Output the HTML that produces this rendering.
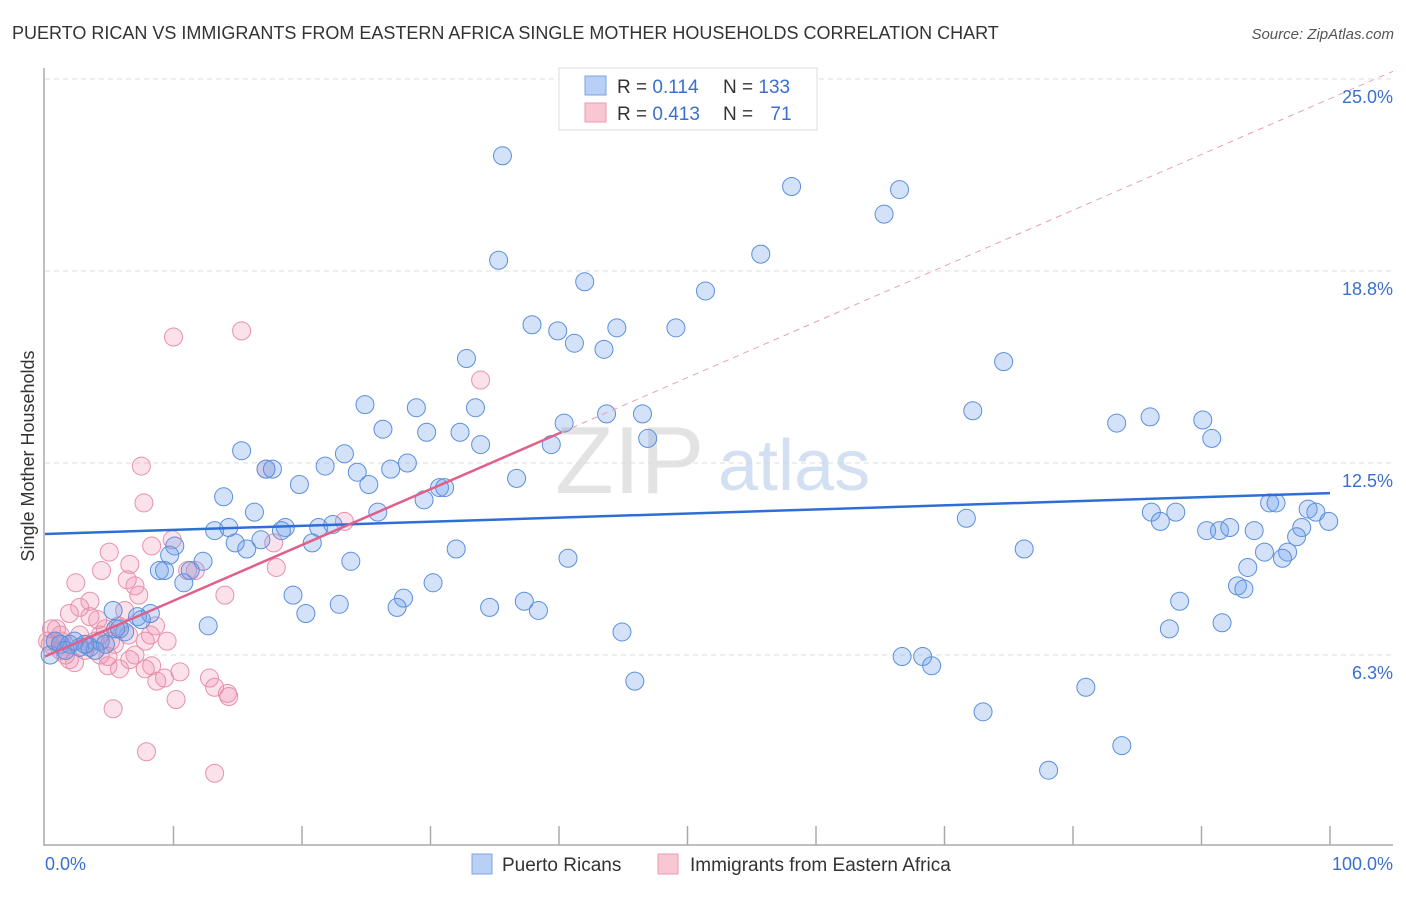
<!DOCTYPE html>
<html><head><meta charset="utf-8"><style>
body{margin:0;background:#fff;font-family:"Liberation Sans",sans-serif;}
svg text{font-family:"Liberation Sans",sans-serif;}
</style></head><body>
<svg id="chart" width="1406" height="892" viewBox="0 0 1406 892" xmlns="http://www.w3.org/2000/svg">
<text x="12" y="39" font-size="18" fill="#333">PUERTO RICAN VS IMMIGRANTS FROM EASTERN AFRICA SINGLE MOTHER HOUSEHOLDS CORRELATION CHART</text>
<text x="1394" y="39" font-size="15" fill="#555" font-style="italic" text-anchor="end">Source: ZipAtlas.com</text>
<g id="grid"></g>
<g>
<text x="555" y="493" font-size="96" fill="#ddd" font-family="Liberation Serif" opacity="0.8">ZIP</text>
<text x="718" y="490" font-size="72" fill="#c9d9ef" opacity="0.8">atlas</text>
</g>
<g id="axes"></g>
<g id="pink-points"></g>
<g id="blue-points"></g>
<g id="trends"></g>
<text transform="translate(34,456) rotate(-90)" font-size="18" fill="#333" text-anchor="middle">Single Mother Households</text>
<g>
<rect x="559" y="68" width="258" height="62" fill="#fff" stroke="#ddd"/>
<rect x="585" y="76" width="21" height="19" fill="#b8d0f5" stroke="#7aa3e0"/>
<rect x="585" y="103" width="21" height="19" fill="#f9c6d4" stroke="#ec9ab2"/>
<text x="617" y="93" font-size="19" fill="#333">R = <tspan fill="#3a6fd0">0.114</tspan></text>
<text x="723" y="93" font-size="19" fill="#333">N = <tspan fill="#3a6fd0">133</tspan></text>
<text x="617" y="120" font-size="19" fill="#333">R = <tspan fill="#3a6fd0">0.413</tspan></text>
<text x="723" y="120" font-size="19" fill="#333">N = <tspan fill="#3a6fd0" dx="12">71</tspan></text>
</g>
<g>
<rect x="472" y="854" width="20" height="20" fill="#b8d0f5" stroke="#7aa3e0"/>
<text x="502" y="871" font-size="19" fill="#333">Puerto Ricans</text>
<rect x="658" y="854" width="20" height="20" fill="#f9c6d4" stroke="#ec9ab2"/>
<text x="690" y="871" font-size="19" fill="#333">Immigrants from Eastern Africa</text>
</g>
</svg>
<script>
const yTicks=[6.25,12.5,18.75,25];
const yTickLabels=["6.3%","12.5%","18.8%","25.0%"];
const xTickLabels=["0.0%","100.0%"];
const blueX=[35.6,58.1,66.5,65.3,35.3,55.7,42.0,51.4,37.9,39.9,44.5,49.1,41.2,43.5,32.8,74.6,24.9,28.9,33.5,43.7,46.5,72.2,83.4,86.0,90.1,26.3,29.7,32.3,40.4,46.9,90.8,15.3,33.9,39.4,23.3,28.2,17.2,17.7,21.8,24.3,26.9,19.8,25.2,36.7,30.7,31.1,13.9,29.5,25.9,16.3,13.2,14.3,18.7,18.4,21.3,22.4,16.8,14.8,15.7,20.8,10.1,9.7,12.3,11.3,8.9,9.3,32.0,23.8,40.7,10.8,19.3,30.2,27.9,27.4,22.9,37.3,38.4,34.6,20.3,5.3,8.2,7.2,7.5,12.7,6.2,5.5,44.9,66.7,68.3,69.0,45.9,73.0,81.0,78.1,83.8,71.7,76.2,86.1,88.0,86.8,90.4,91.4,92.2,94.1,95.3,95.8,98.3,98.9,99.9,97.8,97.4,94.9,96.7,96.3,93.6,92.8,93.3,88.3,91.6,87.5,0.4,0.8,1.2,1.9,2.7,3.5,4.3,4.7,2.3,3.9,1.6,3.1,5.8];
const blueY=[22.5,21.5,21.4,20.6,19.1,19.3,18.4,18.1,17.0,16.8,16.9,16.9,16.4,16.2,15.9,15.8,14.4,14.3,14.3,14.1,14.1,14.2,13.8,14.0,13.9,13.6,13.5,13.5,13.8,13.3,13.3,12.9,13.1,13.1,12.8,12.5,12.3,12.3,12.4,12.2,12.3,11.8,11.8,12.0,11.7,11.7,11.4,11.3,10.9,10.9,10.3,10.4,10.4,10.3,10.4,10.5,10.0,9.9,9.7,9.9,9.8,9.5,9.3,9.0,9.0,9.0,9.7,9.3,9.4,8.6,8.2,8.6,8.1,7.8,7.9,8.0,7.7,7.8,7.6,7.7,7.6,7.5,7.4,7.2,7.0,7.1,7.0,6.2,6.2,5.9,5.4,4.4,5.2,2.5,3.3,10.7,9.7,10.9,10.9,10.6,10.3,10.3,10.4,10.3,11.2,11.2,11.0,10.9,10.6,10.4,10.1,9.6,9.6,9.4,9.1,8.5,8.4,8.0,7.3,7.1,6.25,6.7,6.6,6.6,6.5,6.5,6.7,6.6,6.7,6.4,6.4,6.6,7.1];
const pinkX=[10.0,15.3,33.9,7.5,17.2,7.7,23.3,9.9,8.3,17.8,5.0,6.6,11.1,18.0,4.4,2.4,6.4,7.0,7.3,14.0,2.7,1.9,3.5,4.1,8.6,5.7,4.3,6.5,7.8,8.2,9.5,3.3,1.2,0.8,0.5,1.6,1.9,2.3,4.9,6.6,8.3,7.8,10.5,9.3,8.7,12.8,13.2,14.2,14.3,5.3,10.2,7.9,13.2,0.4,1.2,3.1,5.1,4.3,5.8,4.9,11.7,0.9,0.2,1.3,3.9,2.7,4.7,5.4,6.2,3.5,7.0];
const pinkY=[16.6,16.8,15.2,12.4,12.3,11.2,10.6,10.0,9.8,9.9,9.6,9.2,9.0,9.1,9.0,8.6,8.7,8.5,8.2,8.2,7.8,7.6,7.5,7.4,7.2,7.2,6.9,6.9,6.7,6.9,6.7,6.6,6.9,6.7,7.1,6.25,6.1,6.0,6.2,6.1,5.9,5.8,5.7,5.5,5.4,5.5,5.2,5.0,4.9,4.5,4.8,3.1,2.4,6.6,6.4,6.4,6.7,6.25,5.8,5.9,9.0,7.1,6.7,6.7,6.7,6.9,7.1,6.6,7.7,8.0,6.25];
const blueTrend=[10.19,11.52];
const pinkTrend=[6.2,0.1816];
const X=v=>45+v*12.85, Y=v=>847-v*30.72;
const NS="http://www.w3.org/2000/svg";
function mk(tag,attrs,parent){const e=document.createElementNS(NS,tag);for(const k in attrs)e.setAttribute(k,attrs[k]);parent.appendChild(e);return e;}
const grid=document.getElementById('grid');
yTicks.forEach((t,i)=>{
 const l=mk('line',{x1:45,x2:1393,y1:Y(t),y2:Y(t),stroke:'#ddd','stroke-dasharray':'5,4'},grid);
 
 
 const tx=mk('text',{x:1393,y:Y(t)+24,'font-size':18,fill:'#3a6fd0','text-anchor':'end'},grid);
 tx.textContent=yTickLabels[i];
 
 
});
const axes=document.getElementById('axes');
let a=mk('line',{x1:44,x2:44,y1:68,y2:846,stroke:'#aaa','stroke-width':1.5},axes);


a=mk('line',{x1:44,x2:1393,y1:845,y2:845,stroke:'#aaa','stroke-width':1.5},axes);


for(let i=1;i<=10;i++){const t=mk('line',{x1:X(i*10),x2:X(i*10),y1:826,y2:845,stroke:'#aaa','stroke-width':1.5},axes);
 
 }
[[0,'start',45],[100,'end',1393]].forEach((d,i)=>{const t=mk('text',{x:d[2],y:870,'font-size':18,fill:'#3a6fd0','text-anchor':d[1]},axes);t.textContent=xTickLabels[i];
 
 });
const pg=document.getElementById('pink-points');
pinkX.forEach((x,i)=>{const c=mk('circle',{cx:X(x),cy:Y(pinkY[i]),r:9,fill:'rgba(240,140,170,0.25)',stroke:'#e890aa','stroke-width':1},pg);
 
 });
const bg=document.getElementById('blue-points');
blueX.forEach((x,i)=>{const c=mk('circle',{cx:X(x),cy:Y(blueY[i]),r:9,fill:'rgba(110,160,235,0.3)',stroke:'#5b8fdc','stroke-width':1},bg);
 
 });
const tg=document.getElementById('trends');
let t=mk('line',{x1:X(0),y1:Y(blueTrend[0]),x2:X(100),y2:Y(blueTrend[1]),stroke:'#2d6fd6','stroke-width':2.5},tg);


const pv=x=>pinkTrend[0]+pinkTrend[1]*x;
t=mk('line',{x1:X(0),y1:Y(pv(0)),x2:X(40.2),y2:Y(pv(40.2)),stroke:'#e0608a','stroke-width':2.5},tg);


t=mk('line',{x1:X(40.2),y1:Y(pv(40.2)),x2:X(104.9),y2:Y(pv(104.9)),stroke:'#e8a0b6','stroke-width':1,'stroke-dasharray':'6,5'},tg);


</script>
</body></html>
